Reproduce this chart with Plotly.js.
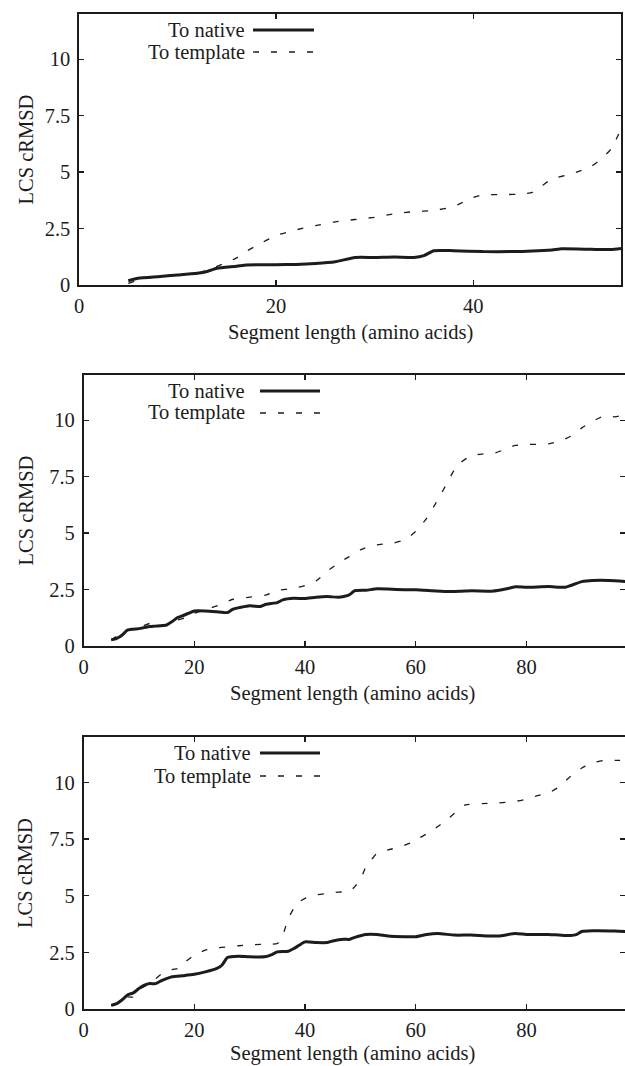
<!DOCTYPE html>
<html>
<head>
<meta charset="utf-8">
<script src="https://cdn.plot.ly/plotly-3.0.1.min.js"></script>
<style>html,body{margin:0;padding:0;background:#fff;}#chart{width:625px;height:1066px;}</style>
</head>
<body>
<div id="chart"></div>
<script>
// ---- Data ----
var seriesNames = ["To native", "To template"];
var xTitle = "Segment length (amino acids)";
var yTitle = "LCS cRMSD";
var yTickVals = [0, 2.5, 5, 7.5, 10];
var yTickText = ["0", "2.5", "5", "7.5", "10"];
var xTicks1 = [0, 20, 40];
var xTicks23 = [0, 20, 40, 60, 80];

// Panel 1
var p1NativeX = [5,6,8,10,12,13,14,16,17,20,22,24,26,28,30,32,34,35,36,38,41,44,46,48,49,52,54,55];
var p1NativeY = [0.19,0.3,0.37,0.44,0.52,0.6,0.74,0.83,0.89,0.9,0.91,0.95,1.03,1.22,1.22,1.24,1.22,1.3,1.52,1.52,1.48,1.48,1.5,1.55,1.6,1.58,1.57,1.62];
var p1TemplateX = [5,6,8,10,12,13,15,16,17,18,20,22,24,26,28,30,32,34,36,38,40,41,43,45,46,47,48,50,52,53,54,55];
var p1TemplateY = [0.07,0.22,0.37,0.46,0.52,0.66,1.0,1.2,1.5,1.74,2.19,2.44,2.63,2.8,2.9,3.0,3.15,3.25,3.3,3.47,3.88,4.0,4.0,4.03,4.1,4.4,4.7,4.92,5.26,5.58,6.03,6.9];

// Panel 2
var p2NativeX = [5,6,7,8,10,12,13,15,16,17,18,19,20,22,24,26,27,30,32,33,35,36,38,40,42,44,46,47,48,49,51,53,55,58,60,63,66,68,70,74,76,78,80,84,87,88,90,92,95,98];
var p2NativeY = [0.27,0.34,0.49,0.71,0.77,0.86,0.88,0.93,1.08,1.26,1.35,1.45,1.55,1.55,1.52,1.48,1.63,1.78,1.75,1.85,1.92,2.04,2.11,2.1,2.16,2.19,2.16,2.19,2.26,2.45,2.47,2.53,2.52,2.49,2.49,2.45,2.41,2.42,2.45,2.43,2.51,2.62,2.6,2.63,2.6,2.68,2.85,2.9,2.9,2.85];
var p2TemplateX = [5,8,10,12,15,17,19,20,22,25,27,30,33,35,38,40,42,44,46,48,50,52,54,56,58,60,62,64,65,66,67,68,70,72,74,76,78,80,84,86,88,90,92,94,96,98];
var p2TemplateY = [0.27,0.71,0.81,1.0,0.93,1.15,1.3,1.45,1.6,1.86,2.07,2.16,2.26,2.46,2.56,2.68,2.88,3.3,3.67,3.96,4.26,4.44,4.51,4.56,4.7,5.07,5.66,6.48,6.92,7.37,7.81,8.1,8.43,8.5,8.52,8.7,8.88,8.92,8.95,9.07,9.29,9.66,9.96,10.18,10.15,10.25];

// Panel 3
var p3NativeX = [5,6,7,8,9,10,11,12,13,14,15,16,18,20,22,24,25,26,28,30,33,34,35,37,38,39,40,42,44,45,47,48,49,51,53,55,58,60,62,64,67,70,73,75,78,80,84,86,88,89,90,92,96,98];
var p3NativeY = [0.16,0.24,0.41,0.63,0.71,0.9,1.05,1.12,1.12,1.24,1.34,1.42,1.47,1.53,1.64,1.78,1.93,2.27,2.33,2.3,2.32,2.4,2.52,2.55,2.67,2.82,2.96,2.93,2.93,3.0,3.08,3.07,3.16,3.29,3.29,3.22,3.19,3.19,3.29,3.33,3.26,3.26,3.22,3.22,3.33,3.29,3.29,3.26,3.24,3.28,3.42,3.45,3.44,3.42];
var p3TemplateX = [5,6,7,8,9,10,12,14,16,17,18,20,22,24,26,28,30,32,34,35,36,37,38,39,40,42,44,46,48,49,50,51,52,53,55,57,59,60,62,64,66,68,69,72,75,78,80,82,84,86,88,90,92,94,96,98];
var p3TemplateY = [0.16,0.24,0.41,0.53,0.53,0.86,1.12,1.53,1.74,1.78,2.0,2.37,2.6,2.7,2.74,2.79,2.83,2.85,2.86,2.89,3.26,4.0,4.44,4.73,4.88,5.03,5.1,5.16,5.18,5.4,5.69,6.28,6.58,6.87,7.02,7.14,7.32,7.46,7.73,8.05,8.42,8.86,9.01,9.06,9.09,9.16,9.26,9.41,9.53,9.82,10.27,10.63,10.86,10.97,10.97,10.97];

// ---- Layout helpers ----
var W = 625, H = 1066;
function px(x) { return x / W; }
function py(y) { return 1 - y / H; }
var FONT = "Liberation Serif";
var INK = "#1c1c1c";
var FS = 20.5;

var panels = [
  {nx: p1NativeX, ny: p1NativeY, tx: p1TemplateX, ty: p1TemplateY, left: 79, right: 621, top: 14, bottom: 285, xmax: 55, xticks: xTicks1,
   leg: {textRight: 247, y1: 30, y2: 52, l0: 253, l1: 314}, xTitleY: 332},
  {nx: p2NativeX, ny: p2NativeY, tx: p2TemplateX, ty: p2TemplateY, left: 83.5, right: 625.5, top: 375, bottom: 646, xmax: 97.8, xticks: xTicks23,
   leg: {textRight: 247, y1: 391, y2: 413, l0: 260, l1: 320}, xTitleY: 693},
  {nx: p3NativeX, ny: p3NativeY, tx: p3TemplateX, ty: p3TemplateY, left: 83.5, right: 625.5, top: 737, bottom: 1009, xmax: 97.8, xticks: xTicks23,
   leg: {textRight: 253, y1: 753, y2: 776, l0: 260, l1: 320}, xTitleY: 1053}
];

var data = [];
var layout = {
  width: W, height: H,
  margin: {l: 0, r: 0, t: 0, b: 0},
  paper_bgcolor: "#fff", plot_bgcolor: "#fff",
  showlegend: false,
  font: {family: FONT, size: FS, color: INK},
  annotations: [], shapes: []
};

panels.forEach(function (p, i) {
  var n = i + 1;
  var xa = "x" + (n === 1 ? "" : n), ya = "y" + (n === 1 ? "" : n);
  data.push({x: p.nx, y: p.ny, xaxis: xa, yaxis: ya, type: "scatter", mode: "lines", name: seriesNames[0],
             line: {color: INK, width: 3, shape: "spline", smoothing: 0.5}});
  data.push({x: p.tx, y: p.ty, xaxis: xa, yaxis: ya, type: "scatter", mode: "lines", name: seriesNames[1],
             line: {color: INK, width: 1.3, dash: "6px,12px", shape: "spline", smoothing: 0.5}});
  var axCommon = {showline: true, linecolor: INK, linewidth: 1.6, mirror: "ticks", ticks: "inside", ticklen: 5,
                  tickwidth: 1.3, tickcolor: INK, showgrid: false, zeroline: false, fixedrange: true,
                  tickfont: {family: FONT, size: FS, color: INK}};
  layout["xaxis" + (n === 1 ? "" : n)] = Object.assign({}, axCommon, {
    domain: [px(p.left), px(p.right)], range: [0, p.xmax], tickmode: "array", tickvals: p.xticks,
    anchor: ya, ticklabelstandoff: 2
  });
  layout["yaxis" + (n === 1 ? "" : n)] = Object.assign({}, axCommon, {
    domain: [py(p.bottom), py(p.top)], range: [0, 12], tickmode: "array", tickvals: yTickVals, ticktext: yTickText,
    anchor: xa, ticklabelstandoff: 3
  });
  // axis titles
  layout.annotations.push({text: xTitle, xref: "paper", yref: "paper", x: px((p.left + Math.min(p.right, 621)) / 2), y: py(p.xTitleY),
                           xanchor: "center", yanchor: "middle", showarrow: false, font: {family: FONT, size: FS, color: INK}});
  layout.annotations.push({text: yTitle, xref: "paper", yref: "paper", x: px(25), y: py((p.top + p.bottom) / 2), textangle: -90,
                           xanchor: "center", yanchor: "middle", showarrow: false, font: {family: FONT, size: FS, color: INK}});
  // gnuplot-style key: text then sample
  layout.annotations.push({text: seriesNames[0], xref: "paper", yref: "paper", x: px(p.leg.textRight), y: py(p.leg.y1),
                           xanchor: "right", yanchor: "middle", showarrow: false, font: {family: FONT, size: FS, color: INK}});
  layout.annotations.push({text: seriesNames[1], xref: "paper", yref: "paper", x: px(p.leg.textRight), y: py(p.leg.y2),
                           xanchor: "right", yanchor: "middle", showarrow: false, font: {family: FONT, size: FS, color: INK}});
  layout.shapes.push({type: "line", xref: "paper", yref: "paper", x0: px(p.leg.l0), x1: px(p.leg.l1), y0: py(p.leg.y1), y1: py(p.leg.y1),
                      line: {color: INK, width: 3}});
  layout.shapes.push({type: "line", xref: "paper", yref: "paper", x0: px(p.leg.l0), x1: px(p.leg.l1), y0: py(p.leg.y2), y1: py(p.leg.y2),
                      line: {color: INK, width: 1.3, dash: "6px,12px"}});
});

Plotly.newPlot("chart", data, layout, {displayModeBar: false, staticPlot: true});
</script>
</body>
</html>
